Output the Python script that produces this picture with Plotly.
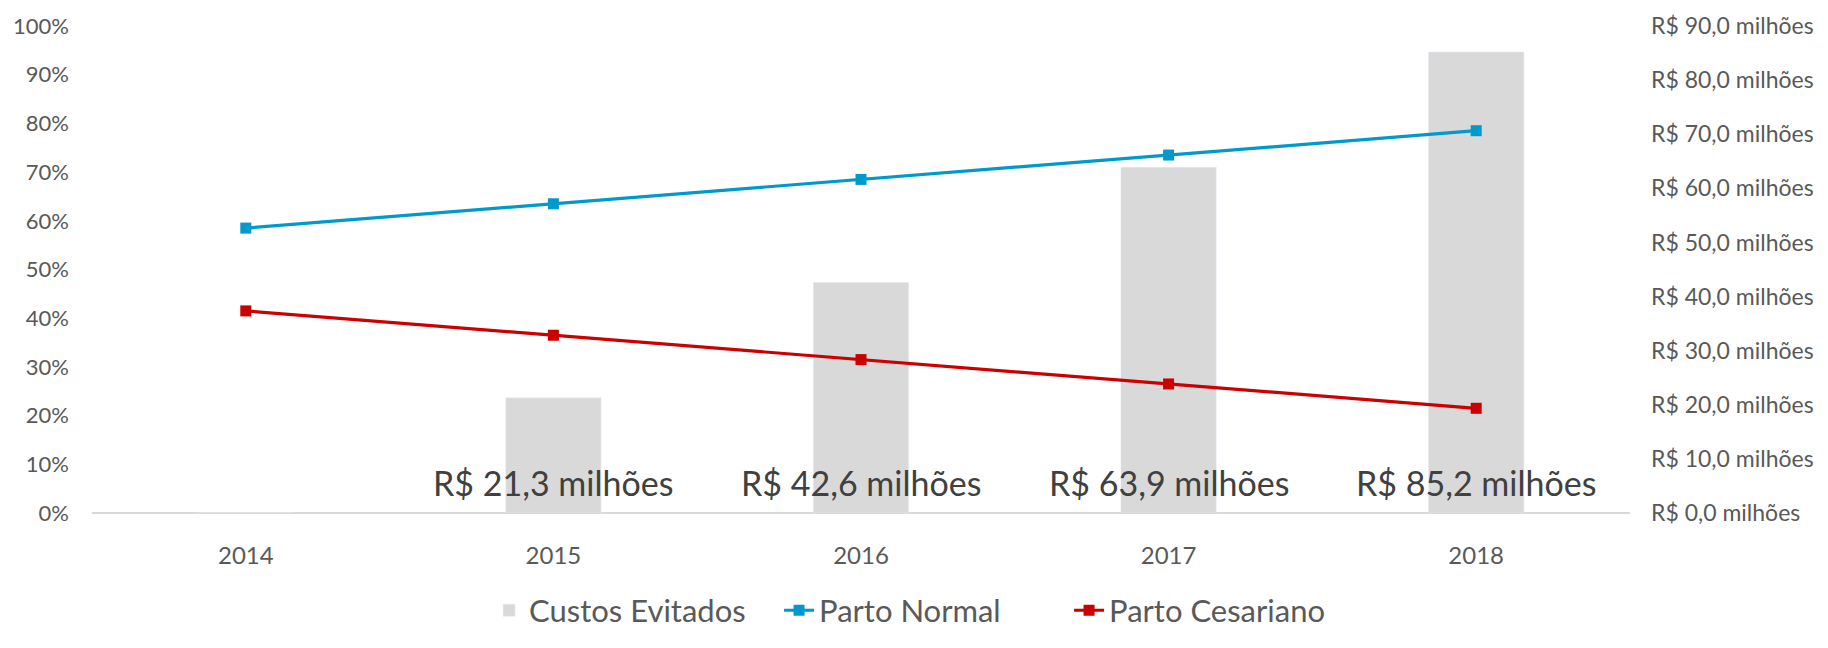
import plotly.graph_objects as go

years = ["2014", "2015", "2016", "2017", "2018"]
custos_evitados = [0, 21.3, 42.6, 63.9, 85.2]          # R$ milhões
parto_normal = [0.585, 0.635, 0.685, 0.735, 0.785]
parto_cesariano = [0.415, 0.365, 0.315, 0.265, 0.215]
right_tick_vals = [0, 10, 20, 30, 40, 50, 60, 70, 80, 90]
right_tick_text = ["R$ %d,0 milhões" % v for v in right_tick_vals]

FONT = "Lato"
GRAY_TXT = "#595959"

fig = go.Figure()
# bars on the primary (right-side, money) axis so the lines are drawn above them
fig.add_trace(go.Bar(
    x=years, y=custos_evitados, name="Custos Evitados",
    marker_color="#D9D9D9", yaxis="y", width=0.31,
))
fig.add_trace(go.Scatter(
    x=years, y=parto_normal, name="Parto Normal", mode="lines+markers",
    yaxis="y2",
    line=dict(color="#0099CC", width=3.2),
    marker=dict(symbol="square", size=11, color="#0099CC"),
))
fig.add_trace(go.Scatter(
    x=years, y=parto_cesariano, name="Parto Cesariano", mode="lines+markers",
    yaxis="y2",
    line=dict(color="#CC0000", width=3.2),
    marker=dict(symbol="square", size=11, color="#CC0000"),
))

for i, v in enumerate(custos_evitados):
    if v > 0:
        fig.add_annotation(
            x=i, y=0, xref="x", yref="y", yanchor="bottom", yshift=8,
            text=("R$ %.1f milhões" % v).replace(".", ","),
            showarrow=False, font=dict(family=FONT, size=34, color="#404040"),
        )

fig.update_layout(
    width=1828, height=648,
    margin=dict(l=92, r=198, t=26, b=135, autoexpand=False),
    plot_bgcolor="white", paper_bgcolor="white",
    font=dict(family=FONT, color=GRAY_TXT, size=22),
    showlegend=True,
    legend=dict(orientation="h", x=0.541, xanchor="center", y=-0.145, yanchor="top",
                font=dict(size=31, color=GRAY_TXT), traceorder="normal",
                entrywidth=245, entrywidthmode="pixels"),
    xaxis=dict(type="category", range=[-0.5, 4.5], showgrid=False, zeroline=False,
               showline=False, ticks="", ticklabelstandoff=26, tickfont=dict(size=24)),
    yaxis=dict(range=[0, 90], side="right", tickvals=right_tick_vals,
               ticktext=right_tick_text, showgrid=False, zeroline=True,
               zerolinecolor="#D9D9D9", zerolinewidth=1.5, showline=False,
               ticks="", ticklabelstandoff=20, tickfont=dict(size=23)),
    yaxis2=dict(range=[0, 1], overlaying="y", side="left",
                tickvals=[i / 10 for i in range(11)], tickformat=".0%",
                showgrid=False, zeroline=False, showline=False, ticks="",
                ticklabelstandoff=22, tickfont=dict(size=22)),
    bargap=0.69,
)

fig.write_html("out.html")
